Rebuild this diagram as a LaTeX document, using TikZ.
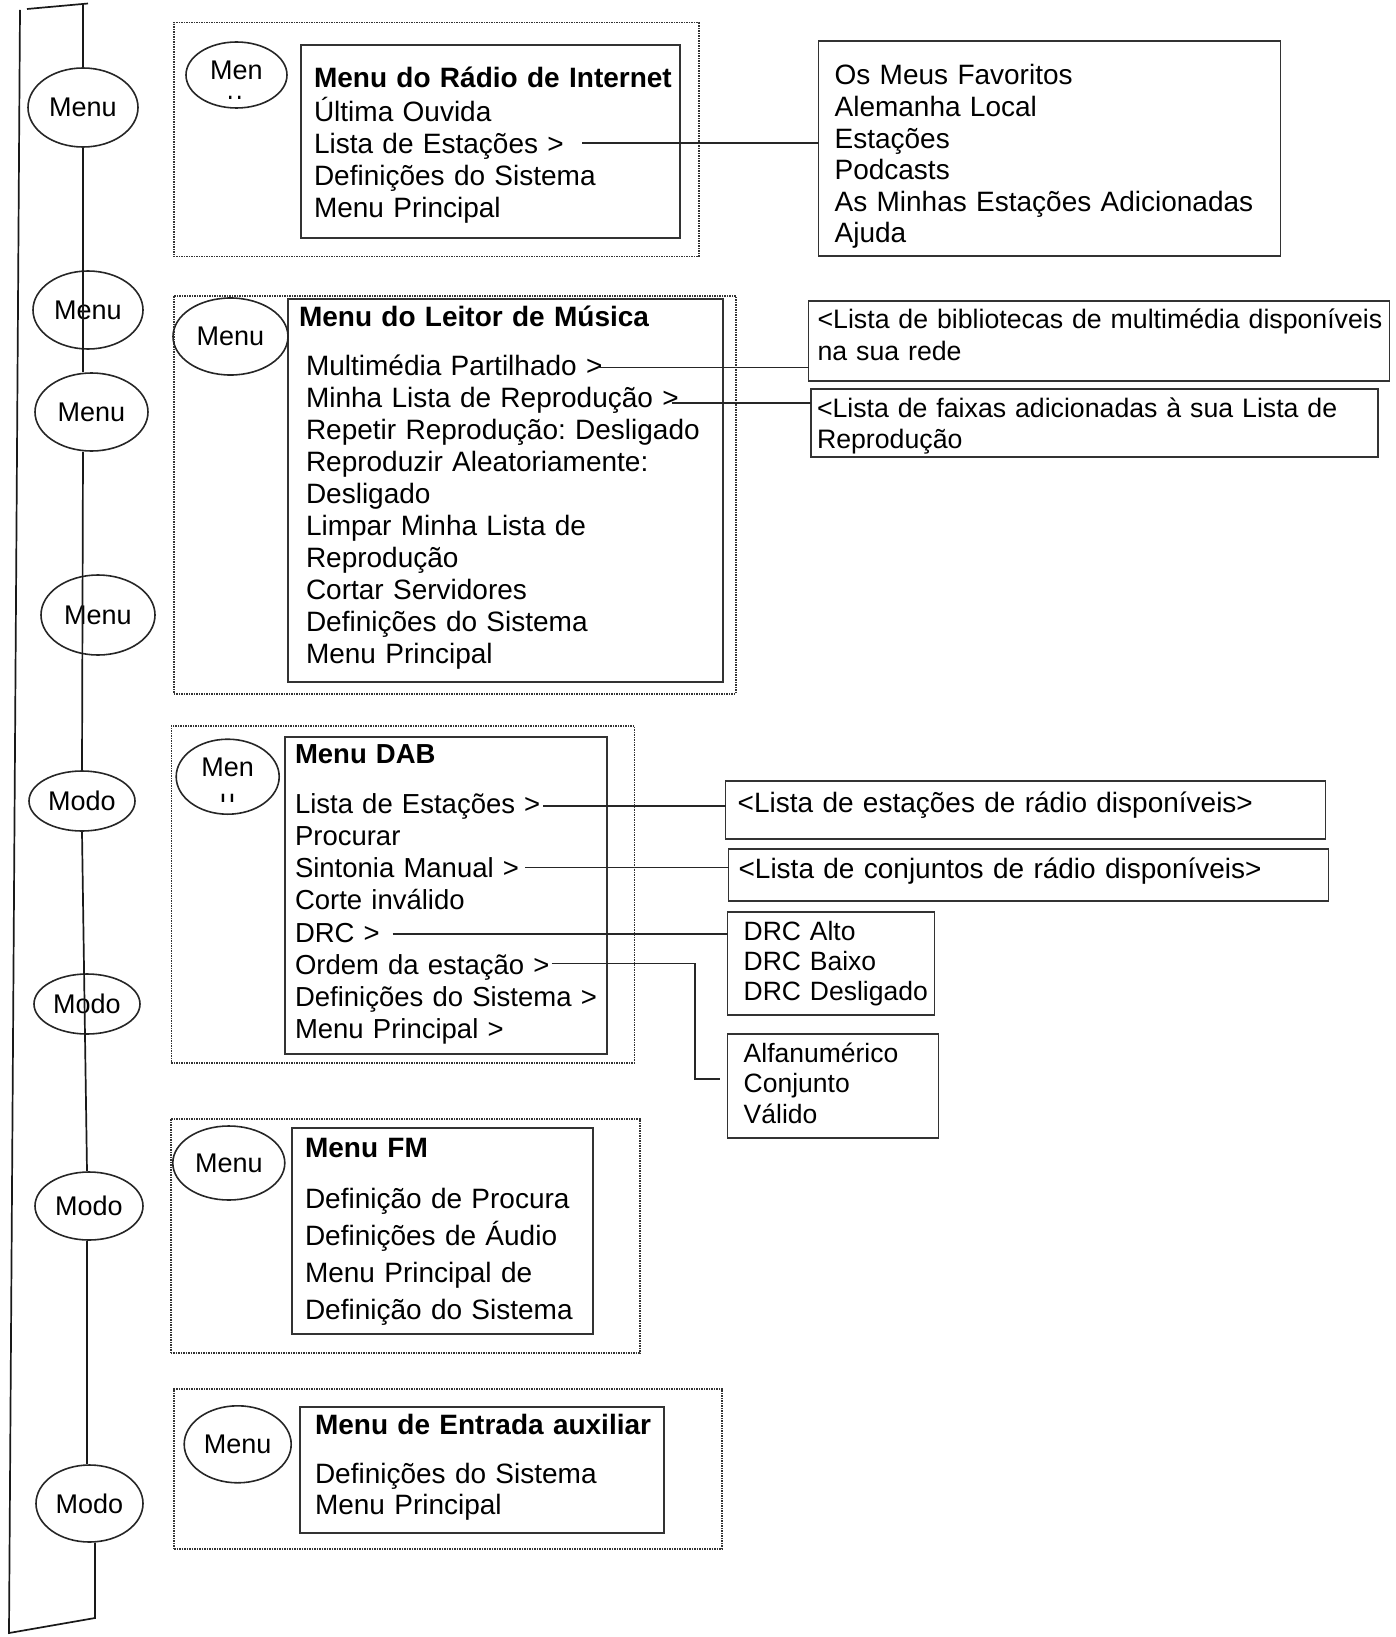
\documentclass[tikz,border=0pt]{standalone}
\usepackage{fontspec}
\setmainfont{Liberation Sans}
\usetikzlibrary{positioning,shapes.geometric}
\frenchspacing
\tikzstyle{tecla} = [ellipse,
                    draw=black!85,
                                        line width=1.6pt,
                                                            inner sep=0pt,
                                                                                font=\fontsize{27}{31}\selectfont]
\tikzstyle{grupo} = [rectangle,
                    draw=black!80,
                                        densely dotted,
                                                            line width=1.5pt,
                                                                                inner sep=0pt,
                                                                                                    anchor=north west]
\tikzstyle{caixa} = [rectangle,
                    draw=black!80,
                                        line width=1.2pt,
                                                            anchor=north west,
                                                                                align=left,
                                                                                                    inner ysep=0pt,
                                                                                                                        outer sep=0pt,
                                                                                                                                            font=\fontsize{28}{32}\selectfont]
\tikzstyle{linha} = [draw=black!90, line width=1.7pt]
\tikzstyle{ligacao} = [draw=black!85, line width=1.4pt]

\begin{document}
\begin{tikzpicture}[x=1pt, y=-1pt, node distance=19pt]
\useasboundingbox (0,0) rectangle (1396,1637);
\node (g1) [grupo, minimum width=525pt, minimum height=234pt] at (173,22) {};
\node (g2) [grupo, minimum width=562pt, minimum height=398pt] at (173,295) {};
\node (g3) [grupo, minimum width=463pt, minimum height=337pt] at (170.7,725) {};
\node (g4) [grupo, minimum width=469pt, minimum height=234pt] at (170,1118) {};
\node (g5) [grupo, minimum width=548pt, minimum height=160pt] at (173.3,1388) {};

\node (b1) [caixa, inner xsep=13pt, text width=353pt, text height=43pt, text depth=150pt] at (301,45) {\begin{tabular}[t]{@{}l@{}} \textbf{Menu do Rádio de Internet} \\ Última Ouvida \\ Lista de Estações > \\ Definições do Sistema \\ Menu Principal \end{tabular}};
\node (b2) [caixa, inner xsep=18pt, text width=399pt, text height=27pt, text depth=356pt] at (288,299) {\begin{tabular}[t]{@{}l@{}} \hspace*{-7pt}\textbf{Menu do Leitor de Música} \\[17pt] Multimédia Partilhado > \\ Minha Lista de Reprodução > \\ Repetir Reprodução: Desligado \\ Reproduzir Aleatoriamente: \\ Desligado \\ Limpar Minha Lista de \\ Reprodução \\ Cortar Servidores \\ Definições do Sistema \\ Menu Principal \end{tabular}};
\node (b3) [caixa, inner xsep=10pt, text width=302pt, text height=26pt, text depth=291pt, font=\fontsize{27.5}{32.2}\selectfont] at (285,737) {\begin{tabular}[t]{@{}l@{}} \textbf{Menu DAB} \\[18pt] Lista de Estações > \\ Procurar \\ Sintonia Manual > \\ Corte inválido \\ DRC > \\ Ordem da estação > \\ Definições do Sistema > \\ Menu Principal > \end{tabular}};
\node (b4) [caixa, inner xsep=13pt, text width=275pt, text height=29pt, text depth=177pt, font=\fontsize{28}{37}\selectfont] at (292,1128) {\begin{tabular}[t]{@{}l@{}} \textbf{Menu FM} \\[14pt] Definição de Procura \\ Definições de Áudio \\ Menu Principal de \\ Definição do Sistema \end{tabular}};
\node (b5) [caixa, inner xsep=15pt, text width=334pt, text height=27pt, text depth=99pt, font=\fontsize{28}{31}\selectfont] at (300,1407) {\begin{tabular}[t]{@{}l@{}} \textbf{Menu de Entrada auxiliar} \\[18pt] Definições do Sistema \\ Menu Principal \end{tabular}};

\node (r1) [caixa, inner xsep=16pt, text width=430pt, text height=44pt, text depth=171pt, font=\fontsize{28}{31.6}\selectfont] at (818.6,41) {\begin{tabular}[t]{@{}l@{}} Os Meus Favoritos \\ Alemanha Local \\ Estações \\ Podcasts \\ As Minhas Estações Adicionadas \\ Ajuda \end{tabular}};
\node (r2) [caixa, inner xsep=9pt, text width=563pt, text height=27pt, text depth=53pt, font=\fontsize{26.7}{32}\selectfont] at (808.6,301) {\begin{tabular}[t]{@{}l@{}} <Lista de bibliotecas de multimédia disponíveis \\ na sua rede \end{tabular}};
\node (r3) [caixa, inner xsep=6pt, text width=555pt, text height=28pt, text depth=40pt, font=\fontsize{26.7}{31}\selectfont] at (811,389) {\begin{tabular}[t]{@{}l@{}} <Lista de faixas adicionadas à sua Lista de \\ Reprodução \end{tabular}};
\node (r4) [caixa, inner xsep=12pt, text width=576pt, text height=31pt, text depth=27pt] at (725.7,781) {<Lista de estações de rádio disponíveis>};
\node (r5) [caixa, inner xsep=10pt, text width=580pt, text height=29pt, text depth=23pt] at (728.6,849) {<Lista de conjuntos de rádio disponíveis>};
\node (r6) [caixa, inner xsep=16pt, text width=174.6pt, text height=28pt, text depth=75pt, font=\fontsize{26.5}{30.4}\selectfont] at (727.7,912) {\begin{tabular}[t]{@{}l@{}} DRC Alto \\ DRC Baixo \\ DRC Desligado \end{tabular}};
\node (r7) [caixa, below=19pt of r6.south west, anchor=north west, inner xsep=16pt, text width=179pt, text height=28pt, text depth=76pt, font=\fontsize{26.5}{30.5}\selectfont] {\begin{tabular}[t]{@{}l@{}} Alfanumérico \\ Conjunto \\ Válido \end{tabular}};

\coordinate (la) at (582,143);
\coordinate (lb) at (598,367.3);
\coordinate (lc) at (671.7,403.3);
\coordinate (ld) at (543.3,806);
\coordinate (le) at (525,867.7);
\coordinate (lf) at (392.7,933.5);
\coordinate (lg) at (551.7,963.5);
\coordinate (cg) at (695,1079);
\coordinate (fg) at (720,1079);
\draw[ligacao, line width=1.2pt] (la) -- (la -| r1.west);
\draw[ligacao, line width=1.5pt] (lb) -- (lb -| r2.west);
\draw[ligacao, line width=2pt] (lc) -- (lc -| r3.west);
\draw[ligacao, line width=1.5pt] (ld) -- (ld -| r4.west);
\draw[ligacao, line width=1.2pt] (le) -- (le -| r5.west);
\draw[ligacao, line width=2pt] (lf) -- (lf -| r6.west);
\draw[ligacao, line width=1.8pt] (lg) -| (cg) -- (fg);

\node (i1) [tecla, minimum width=101pt, minimum height=66pt, text height=9pt, text depth=0pt] at (236.5,75) {Men};
\node (i2) [tecla, minimum width=115pt, minimum height=77pt] at (230.5,336.5) {Menu};
\node (i3) [tecla, minimum width=103pt, minimum height=75pt, text height=0pt, text depth=1pt] at (227.7,776.7) {Men};
\node (i4) [tecla, minimum width=112pt, minimum height=74pt] at (228.8,1163) {Menu};
\node (i5) [tecla, minimum width=107pt, minimum height=77pt] at (237.7,1444.3) {Menu};
\begin{scope}
\clip (215,60) rectangle (256,99);
\node (i1u) [anchor=base, inner sep=0pt, font=\fontsize{27}{31}\selectfont] at (235,110.5) {u};
\end{scope}
\begin{scope}
\clip (205,785) rectangle (250,801);
\node (i3u) [anchor=base, inner sep=0pt, font=\fontsize{27}{31}\selectfont] at (227.7,808.3) {u};
\end{scope}

\node (k1) [tecla, minimum width=110pt, minimum height=79pt] at (83,107.5) {Menu};
\node (k2) [tecla, minimum width=110pt, minimum height=78pt] at (88,310) {Menu};
\node (k3) [tecla, minimum width=113pt, minimum height=78pt] at (91.5,412) {Menu};
\node (k4) [tecla, minimum width=114pt, minimum height=80pt] at (98,615) {Menu};
\node (k5) [tecla, minimum width=106pt, minimum height=60pt] at (82,801) {Modo};
\node (k6) [tecla, minimum width=106pt, minimum height=60pt] at (87,1004) {Modo};
\node (k7) [tecla, minimum width=108pt, minimum height=68pt] at (89,1206) {Modo};
\node (k8) [tecla, minimum width=107pt, minimum height=77pt] at (89.5,1503.5) {Modo};

\coordinate (topoA) at (27,9);
\coordinate (topoB) at (88,3.5);
\coordinate (esqA) at (20,10);
\coordinate (eixoA) at (83,0);
\coordinate (eixoB) at (87,0);
\coordinate (fundoA) at (95,1618);
\coordinate (fundoB) at (9,1633);
\draw[linha] (topoA) -- (topoB);
\draw[linha] (eixoA |- topoB) -- (k1.north);
\draw[linha] (k1.south) -- (eixoA |- k3.north);
\draw[linha] (eixoA |- k3.south) -- (k5.north);
\draw[linha] (k5.south) -- (eixoB |- k7.north);
\draw[linha] (eixoB |- k7.south) -- (eixoB |- k8.north);
\draw[linha] (k8.south -| fundoA) -- (fundoA) -- (fundoB) -- (esqA);
\end{tikzpicture}
\end{document}
